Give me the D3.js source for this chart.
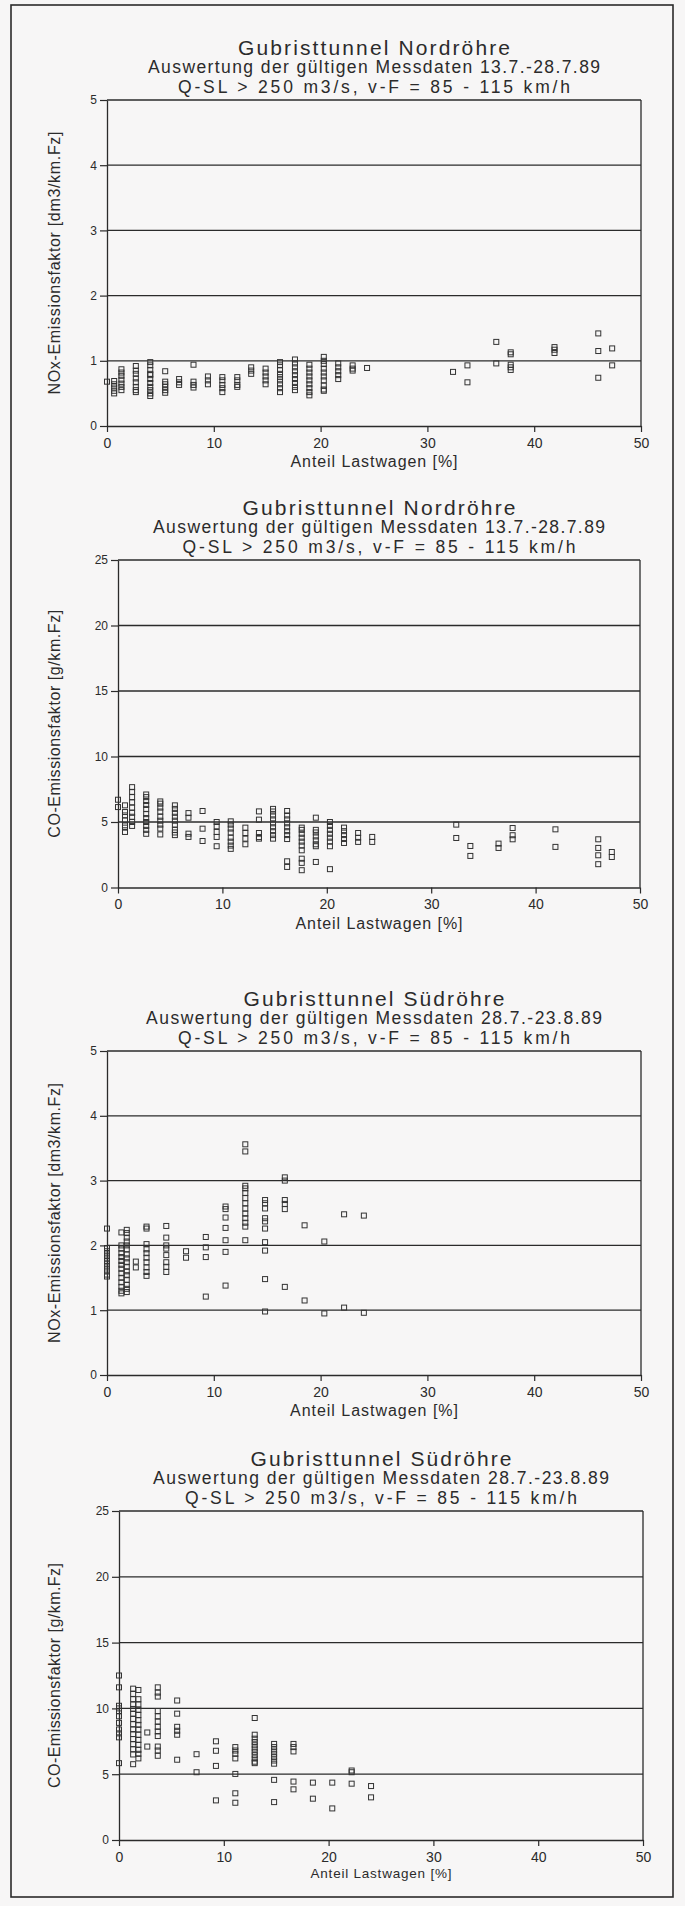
<!DOCTYPE html>
<html><head><meta charset="utf-8">
<script src="https://cdn.jsdelivr.net/npm/d3@7"></script>
<style>
html,body{margin:0;padding:0;background:#f7f6f6;}
svg{display:block;font-family:"Liberation Sans",Arial,Helvetica,sans-serif;}
</style></head><body>
<svg id="c" width="685" height="1906"></svg>
<script>
// ---------- tick labels ----------
const xTicks = [0, 10, 20, 30, 40, 50];
const noxTicks = [0, 1, 2, 3, 4, 5];
const coTicks = [0, 5, 10, 15, 20, 25];

// ---------- texts ----------
const titleNord = "Gubristtunnel Nordröhre";
const titleSued = "Gubristtunnel Südröhre";
const subNord = "Auswertung der gültigen Messdaten 13.7.-28.7.89";
const subSued = "Auswertung der gültigen Messdaten 28.7.-23.8.89";
const condition = "Q-SL > 250 m3/s, v-F = 85 - 115 km/h";
const xLabel = "Anteil Lastwagen [%]";
const yLabelNox = "NOx-Emissionsfaktor [dm3/km.Fz]";
const yLabelCo = "CO-Emissionsfaktor [g/km.Fz]";

// ---------- data: Nordröhre (truck share columns and emission factors) ----------
const nordX = [0, 0.67, 1.35, 2.7, 4.05, 5.45, 6.75, 8.1, 9.45, 10.8, 12.2, 13.5, 14.85, 16.2, 17.6, 18.95, 20.3, 21.65, 23.0, 24.35, 32.4, 33.75, 36.45, 37.8, 41.9, 46.0, 47.3];
const noxNord = [
  [0.68],
  [0.69, 0.64, 0.59, 0.54, 0.50],
  [0.87, 0.82, 0.77, 0.71, 0.65, 0.60, 0.55],
  [0.92, 0.85, 0.80, 0.73, 0.67, 0.60, 0.55, 0.52],
  [0.98, 0.93, 0.86, 0.80, 0.78, 0.72, 0.66, 0.60, 0.55, 0.50, 0.46],
  [0.84, 0.68, 0.64, 0.60, 0.55, 0.51],
  [0.72, 0.67, 0.63],
  [0.94, 0.68, 0.63, 0.59],
  [0.76, 0.70, 0.64],
  [0.75, 0.70, 0.63, 0.58, 0.52],
  [0.75, 0.70, 0.63, 0.60],
  [0.90, 0.85, 0.80],
  [0.88, 0.82, 0.76, 0.70, 0.64],
  [0.98, 0.93, 0.86, 0.80, 0.75, 0.70, 0.64, 0.58, 0.52],
  [1.02, 0.96, 0.90, 0.84, 0.78, 0.72, 0.66, 0.60, 0.55],
  [0.94, 0.88, 0.82, 0.76, 0.70, 0.64, 0.58, 0.52, 0.47],
  [1.06, 1.00, 0.95, 0.88, 0.82, 0.76, 0.70, 0.62, 0.56, 0.54],
  [0.96, 0.90, 0.84, 0.78, 0.72],
  [0.93, 0.88, 0.85],
  [0.89],
  [0.83],
  [0.93, 0.67],
  [1.29, 0.96],
  [1.13, 1.10, 0.94, 0.90, 0.86],
  [1.21, 1.17, 1.12],
  [1.42, 1.15, 0.74],
  [1.19, 0.93]
];
const coNord = [
  [6.70, 6.14],
  [6.27, 5.76, 5.50, 5.13, 4.75, 4.57, 4.24],
  [7.66, 7.30, 6.90, 6.50, 6.10, 5.70, 5.40, 5.00, 4.70],
  [7.10, 6.90, 6.60, 6.30, 6.00, 5.60, 5.30, 5.00, 4.70, 4.40, 4.10],
  [6.57, 6.40, 6.10, 5.80, 5.40, 5.10, 4.80, 4.50, 4.05],
  [6.27, 6.00, 5.70, 5.40, 5.10, 4.80, 4.40, 4.20, 4.00],
  [5.68, 5.33, 4.11, 3.86],
  [5.84, 4.49, 3.55],
  [5.00, 4.67, 4.24, 3.86, 3.15],
  [5.05, 4.80, 4.50, 4.20, 3.80, 3.50, 3.20, 2.95],
  [4.57, 4.16, 3.73, 3.30],
  [5.81, 5.18, 4.16, 3.85, 3.73],
  [6.00, 5.80, 5.50, 5.20, 4.90, 4.60, 4.30, 4.00, 3.73],
  [5.84, 5.50, 5.20, 4.90, 4.60, 4.30, 4.00, 3.70, 2.00, 1.57],
  [4.57, 4.40, 4.10, 3.80, 3.50, 3.20, 2.84, 2.20, 1.88, 1.32],
  [5.33, 4.40, 4.20, 3.90, 3.60, 3.30, 3.15, 1.95],
  [5.00, 4.70, 4.40, 4.10, 3.80, 3.50, 3.15, 1.40],
  [4.57, 4.30, 4.00, 3.70, 3.40],
  [4.16, 3.80, 3.48],
  [3.86, 3.48],
  [4.80, 3.78],
  [3.17, 2.41],
  [3.35, 3.02],
  [4.54, 3.99, 3.68],
  [4.44, 3.10],
  [3.68, 3.02, 2.46, 1.78],
  [2.71, 2.33]
];

// ---------- data: Südröhre ----------
const suedX = [0, 1.35, 1.85, 2.7, 3.7, 5.55, 7.4, 9.25, 11.1, 12.95, 14.8, 16.65, 18.5, 20.35, 22.2, 24.05];
const noxSued = [
  [2.26, 1.96, 1.91, 1.86, 1.81, 1.76, 1.71, 1.66, 1.61, 1.55, 1.52],
  [2.20, 2.00, 1.95, 1.88, 1.82, 1.76, 1.70, 1.64, 1.57, 1.50, 1.43, 1.36, 1.30, 1.26],
  [2.24, 2.19, 2.12, 2.06, 2.00, 1.94, 1.86, 1.80, 1.74, 1.67, 1.60, 1.54, 1.47, 1.39, 1.33, 1.28],
  [1.75, 1.66],
  [2.29, 2.26, 2.02, 1.94, 1.88, 1.81, 1.74, 1.66, 1.59, 1.53],
  [2.30, 2.12, 2.00, 1.95, 1.85, 1.74, 1.67, 1.59],
  [1.91, 1.81],
  [2.13, 1.97, 1.82, 1.21],
  [2.60, 2.56, 2.43, 2.27, 2.08, 1.90, 1.38],
  [3.56, 3.45, 2.92, 2.88, 2.81, 2.73, 2.65, 2.57, 2.49, 2.42, 2.35, 2.29, 2.08],
  [2.70, 2.65, 2.57, 2.42, 2.37, 2.26, 2.05, 1.92, 1.48, 0.98],
  [3.05, 3.00, 2.70, 2.64, 2.56, 1.36],
  [2.31, 1.15],
  [2.06, 0.95],
  [2.48, 1.04],
  [2.46, 0.96]
];
const coSued = [
  [12.5, 11.6, 10.2, 10.0, 9.8, 9.4, 8.9, 8.4, 8.1, 7.8, 5.84],
  [11.5, 11.1, 10.7, 10.3, 9.96, 9.6, 9.2, 8.8, 8.4, 8.05, 7.67, 7.28, 6.9, 6.5, 5.76],
  [11.4, 10.7, 10.3, 9.9, 9.5, 9.1, 8.75, 8.4, 8.0, 7.6, 7.24, 6.85, 6.55, 6.2],
  [8.17, 7.1],
  [11.6, 11.2, 10.9, 9.8, 9.4, 9.0, 8.6, 8.25, 7.9, 7.1, 6.8, 6.4],
  [10.6, 9.6, 8.6, 8.3, 8.0, 6.1],
  [6.52, 5.15],
  [7.5, 6.78, 5.63, 3.01],
  [7.06, 6.8, 6.55, 6.2, 5.02, 3.55, 2.83],
  [9.27, 8.0, 7.7, 7.45, 7.2, 6.95, 6.7, 6.45, 6.2, 5.95, 5.84],
  [7.3, 7.06, 6.8, 6.55, 6.3, 6.04, 5.8, 4.57, 2.88],
  [7.3, 7.06, 6.73, 4.44, 3.85],
  [4.36, 3.14],
  [4.36, 2.4],
  [5.28, 5.15, 4.28],
  [4.1, 3.24]
];

// ---------- layout (positions only) ----------
const panels = [
  {title: titleNord, sub: subNord, yLabel: yLabelNox, cols: nordX, vals: noxNord, ticks: noxTicks,
   left: 107, right: 641, top: 100, bottom: 426, wT: 272, wS: 452, wC: 392, wY: 263, wX: 167, xFs: 16},
  {title: titleNord, sub: subNord, yLabel: yLabelCo, cols: nordX, vals: coNord, ticks: coTicks,
   left: 118, right: 640, top: 560, bottom: 887.5, wT: 273, wS: 452, wC: 393, wY: 228, wX: 167, xFs: 16},
  {title: titleSued, sub: subSued, yLabel: yLabelNox, cols: suedX, vals: noxSued, ticks: noxTicks,
   left: 107, right: 641, top: 1051, bottom: 1375, wT: 261, wS: 456, wC: 392, wY: 260, wX: 168, xFs: 16},
  {title: titleSued, sub: subSued, yLabel: yLabelCo, cols: suedX, vals: coSued, ticks: coTicks,
   left: 119, right: 643, top: 1511, bottom: 1840, wT: 261, wS: 456, wC: 392, wY: 225, wX: 141, xFs: 13.5}
];

const ink = "#2b2b2b";
const svg = d3.select("#c");

svg.append("rect").attr("x", 11).attr("y", 5).attr("width", 662).attr("height", 1892)
  .attr("fill", "none").attr("stroke", ink).attr("stroke-width", 1.6);

function txt(g, s, x, y, fs, w, anchor) {
  const t = g.append("text").attr("x", x).attr("y", y).attr("font-size", fs)
    .attr("fill", ink).attr("text-anchor", anchor || "middle").text(s);
  if (w) t.attr("textLength", w).attr("lengthAdjust", "spacing");
  return t;
}

panels.forEach(p => {
  const g = svg.append("g");
  const yMax = p.ticks[p.ticks.length - 1];
  const x = d3.scaleLinear().domain([0, 50]).range([p.left, p.right]);
  const y = d3.scaleLinear().domain([0, yMax]).range([p.bottom, p.top]);
  const cx = (p.left + p.right) / 2;

  // titles
  txt(g, p.title, cx, p.top - 45, 21, p.wT);
  txt(g, p.sub, cx, p.top - 27, 17.5, p.wS);
  txt(g, condition, cx, p.top - 7, 17.5, p.wC);

  // grid lines and frame
  g.append("g").selectAll("line").data(p.ticks.filter(t => t > 0)).join("line")
    .attr("x1", p.left).attr("x2", p.right).attr("y1", d => y(d)).attr("y2", d => y(d))
    .attr("stroke", ink).attr("stroke-width", 1.3);
  g.append("line").attr("x1", p.right).attr("x2", p.right).attr("y1", p.top).attr("y2", p.bottom)
    .attr("stroke", ink).attr("stroke-width", 1.3);

  // axes
  const ya = g.append("g").attr("transform", `translate(${p.left},0)`)
    .call(d3.axisLeft(y).tickValues(p.ticks).tickSize(7).tickSizeOuter(0).tickPadding(3).tickFormat(d3.format("d")));
  const xa = g.append("g").attr("transform", `translate(0,${p.bottom})`)
    .call(d3.axisBottom(x).tickValues(xTicks).tickSize(6).tickSizeOuter(0).tickPadding(6).tickFormat(d3.format("d")));
  [ya, xa].forEach(a => {
    a.select(".domain").attr("stroke", ink).attr("stroke-width", 1.3);
    a.selectAll(".tick line").attr("stroke", ink).attr("stroke-width", 1.2);
    a.selectAll("text").attr("fill", ink).attr("font-family", "'Liberation Sans',Arial,sans-serif");
  });
  ya.selectAll("text").attr("font-size", 12);
  xa.selectAll("text").attr("font-size", 14);

  // axis titles
  txt(g, xLabel, cx, p.bottom + (p.xFs > 14 ? 41 : 38), p.xFs, p.wX);
  const cy = (p.top + p.bottom) / 2;
  g.append("text").attr("transform", `translate(60,${cy}) rotate(-90)`)
    .attr("font-size", 16).attr("fill", ink).attr("text-anchor", "middle")
    .attr("textLength", p.wY).attr("lengthAdjust", "spacing").text(p.yLabel);

  // points
  const pts = [];
  p.cols.forEach((c, i) => p.vals[i].forEach(v => pts.push([c, v])));
  g.append("g").selectAll("rect").data(pts).join("rect")
    .attr("x", d => x(d[0]) - 2.5).attr("y", d => y(d[1]) - 2.5)
    .attr("width", 5).attr("height", 5)
    .attr("fill", "none").attr("stroke", "#333").attr("stroke-width", 1);
});
</script>
</body></html>
